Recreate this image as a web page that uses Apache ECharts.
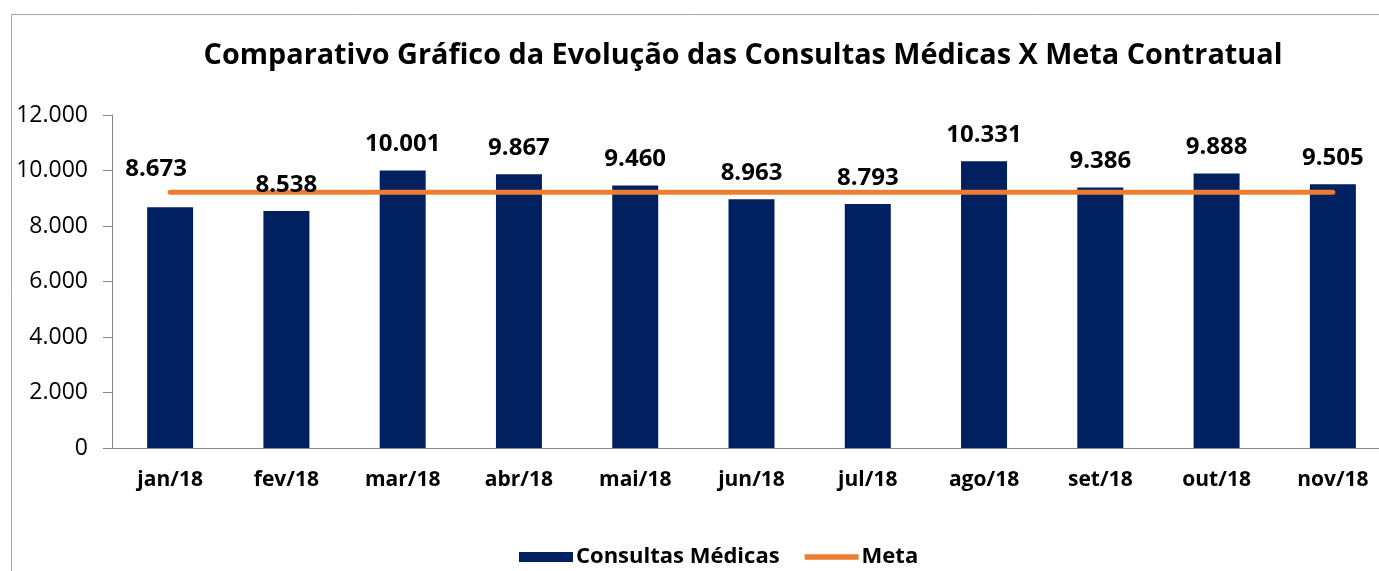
<!DOCTYPE html>
<html>
<head>
<meta charset="utf-8">
<script src="https://cdn.jsdelivr.net/npm/echarts@6/dist/echarts.min.js"></script>
<style>
  html, body { margin: 0; padding: 0; background: #fff; }
  #chart { width: 1379px; height: 571px; }
</style>
</head>
<body>
<div id="chart"></div>
<script>
// data
const months = ['jan/18', 'fev/18', 'mar/18', 'abr/18', 'mai/18', 'jun/18', 'jul/18', 'ago/18', 'set/18', 'out/18', 'nov/18']
const consultas = [8673, 8538, 10001, 9867, 9460, 8963, 8793, 10331, 9386, 9888, 9505]
const meta = [9220, 9220, 9220, 9220, 9220, 9220, 9220, 9220, 9220, 9220, 9220]

const font = '"Open Sans", sans-serif'

function fmt (v) {
  return String(v).replace(/\B(?=(\d{3})+(?!\d))/g, '.')
}

// the jan label was dragged around in the original sheet
const labelShift = { 0: [-14, -12] }

let option = {
  animation: false,
  backgroundColor: '#fff',
  graphic: [
    {
      type: 'rect',
      left: 9,
      top: 12,
      shape: { width: 1420, height: 600 },
      style: { fill: 'none', stroke: '#a6a6a6', lineWidth: 1 }
    }
  ],
  title: {
    text: 'Comparativo Gráfico da Evolução das Consultas Médicas X Meta Contratual',
    left: 738,
    textAlign: 'center',
    top: 36,
    textStyle: {
      fontFamily: font,
      fontWeight: 'bold',
      fontSize: 28.8,
      color: '#000'
    }
  },
  legend: {
    top: 541,
    left: 514,
    itemGap: 25,
    itemWidth: 54,
    itemHeight: 10,
    textStyle: { fontFamily: font, fontWeight: 'bold', fontSize: 22, color: '#000', padding: [0, 0, 0, -2] },
    data: [
      { name: 'Consultas Médicas', icon: 'rect' },
      { name: 'Meta', icon: 'path://M0,0 L100,0 L100,10 L0,10 Z' }
    ]
  },
  grid: {
    left: 112,
    top: 115,
    width: 1279,
    height: 333,
    outerBoundsMode: 'none'
  },
  xAxis: {
    type: 'category',
    data: months,
    axisLine: { lineStyle: { color: '#868686' } },
    axisTick: { length: 9, lineStyle: { color: '#868686' } },
    axisLabel: {
      margin: 22,
      fontFamily: font,
      fontWeight: 'bold',
      fontSize: 21,
      color: '#000'
    }
  },
  yAxis: {
    type: 'value',
    min: 0,
    max: 12000,
    interval: 2000,
    splitLine: { show: false },
    axisLine: { show: true, lineStyle: { color: '#868686' } },
    axisTick: { show: true, length: 9, lineStyle: { color: '#868686' } },
    axisLabel: {
      margin: 24,
      fontFamily: font,
      fontSize: 23,
      color: '#000',
      formatter: fmt
    }
  },
  series: [
    {
      name: 'Consultas Médicas',
      type: 'bar',
      barWidth: 46,
      z: 2,
      itemStyle: { color: '#002060' },
      data: consultas
    },
    {
      name: 'Meta',
      type: 'line',
      data: meta,
      symbol: 'none',
      z: 3,
      itemStyle: { color: '#ED7D31' },
      lineStyle: { color: '#ED7D31', width: 5, cap: 'round' }
    },
    {
      // invisible copy of the bars that only carries the value labels,
      // so the labels sit above the Meta line like in the sheet
      name: 'rotulos',
      type: 'bar',
      barWidth: 46,
      barGap: '-100%',
      z: 4,
      silent: true,
      itemStyle: { color: 'transparent' },
      label: {
        show: true,
        position: 'top',
        distance: 14,
        fontFamily: font,
        fontWeight: 'bold',
        fontSize: 24,
        color: '#000',
        formatter: p => fmt(p.value)
      },
      data: consultas.map((v, i) => labelShift[i]
        ? { value: v, label: { offset: labelShift[i] } }
        : v)
    }
  ]
}

let mychart = echarts.init(document.getElementById('chart'))
mychart.setOption(option)
</script>
</body>
</html>
